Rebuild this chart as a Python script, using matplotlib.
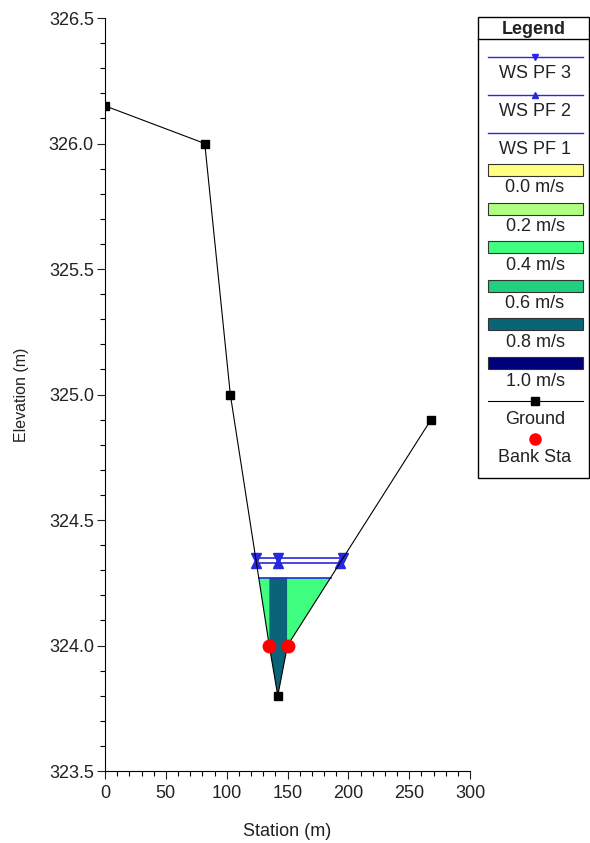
import numpy as np
import matplotlib
matplotlib.use('Agg')
import matplotlib.pyplot as plt
from matplotlib.patches import Rectangle, Polygon

plt.rcParams['font.family'] = ['Liberation Sans', 'DejaVu Sans']

# ground cross section
ground_sta = [0, 82, 103, 135, 142, 150, 268]
ground_elev = [326.15, 326.0, 325.0, 324.0, 323.8, 324.0, 324.9]
marker_sta = [0, 82, 103, 142, 268]
bank_sta = [135, 150]

# water surfaces
ws_names = ['WS PF 3', 'WS PF 2', 'WS PF 1']
ws_elev = [324.35, 324.33, 324.27]
ws_markers = ['v', '^', None]

# velocity distribution for PF 1 (left overbank, channel, right overbank)
sub_vel = [0.45, 0.85, 0.45]
vel_labels = ['0.0 m/s', '0.2 m/s', '0.4 m/s', '0.6 m/s', '0.8 m/s', '1.0 m/s']
vel_bins = [0.0, 0.2, 0.4, 0.6, 0.8, 1.0]
vel_colors = ['#ffff80', '#b0ff80', '#40ff80', '#20d080', '#0a6478', '#00007a']

ws_color = '#2828e0'
txt_color = '#222222'
fs = 13


def crossings(wse):
    """left and right station where ws meets ground"""
    g = np.array(ground_elev)
    s = np.array(ground_sta)
    imin = int(np.argmin(g))
    left = np.interp(wse, g[:imin + 1][::-1], s[:imin + 1][::-1])
    right = np.interp(wse, g[imin:], s[imin:])
    return left, right


def vel_color(v):
    idx = np.searchsorted(vel_bins, v, side='right') - 1
    return vel_colors[max(0, min(idx, len(vel_colors) - 1))]


fig = plt.figure(figsize=(5.9, 8.43), dpi=100)
ax = fig.add_axes([105 / 590, 1 - 771 / 843, 365 / 590, 753 / 843])

# velocity fill under PF 1
left, right = crossings(ws_elev[2])
edges = [left, bank_sta[0], bank_sta[1], right]
for i in range(3):
    a, b = edges[i], edges[i + 1]
    inner = [(s, e) for s, e in zip(ground_sta, ground_elev) if a < s < b]
    pts = [(a, np.interp(a, ground_sta, ground_elev))] + inner + \
          [(b, np.interp(b, ground_sta, ground_elev)), (b, ws_elev[2]), (a, ws_elev[2])]
    ax.add_patch(Polygon(pts, closed=True, facecolor=vel_color(sub_vel[i]),
                         edgecolor='none', zorder=1))

# water surfaces
for name, wse, mk in zip(ws_names, ws_elev, ws_markers):
    l, r = crossings(wse)
    ax.plot([l, r], [wse, wse], color=ws_color, lw=1.2, zorder=3)
    if mk:
        ax.plot([l, ground_sta[int(np.argmin(ground_elev))], r], [wse] * 3,
                ls='none', marker=mk, ms=6.5, color=ws_color, zorder=4)

# ground
ax.plot(ground_sta, ground_elev, color='black', lw=0.8, zorder=5)
ax.plot(marker_sta, np.interp(marker_sta, ground_sta, ground_elev), ls='none',
        marker='s', ms=5.5, color='black', zorder=6)
ax.plot(bank_sta, np.interp(bank_sta, ground_sta, ground_elev), ls='none',
        marker='o', ms=9, color='#ff0000', zorder=7)

ax.set_xlim(0, 300)
ax.set_ylim(323.5, 326.5)
ax.set_xticks(np.arange(0, 301, 50))
ax.set_xticks(np.arange(0, 301, 10), minor=True)
ax.set_yticks(np.arange(323.5, 326.51, 0.5))
ax.set_yticks(np.arange(323.5, 326.51, 0.1), minor=True)
ax.set_yticklabels([f'{v:.1f}' for v in np.arange(323.5, 326.51, 0.5)])
for s in ['top', 'right']:
    ax.spines[s].set_visible(False)
ax.spines['left'].set_linewidth(0.8)
ax.spines['bottom'].set_linewidth(0.8)
ax.tick_params(which='major', length=6, width=0.8, labelsize=fs, colors=txt_color, pad=2)
ax.tick_params(axis='x', which='major', pad=4)
ax.tick_params(which='minor', length=3.5, width=0.8)
ax.set_xlabel('Station (m)', fontsize=fs, labelpad=15, color=txt_color)
ax.set_ylabel('Elevation (m)', fontsize=11.5, labelpad=14, color=txt_color)

# legend box, drawn in pixel coords
lg = fig.add_axes([0, 0, 1, 1], facecolor='none')
lg.set_xlim(0, 590)
lg.set_ylim(843, 0)
lg.axis('off')
lg.add_patch(Rectangle((478, 17), 111, 461, facecolor='white', edgecolor='black', lw=1))
lg.plot([478, 589], [39, 39], color='black', lw=1)
lg.text(534, 29, 'Legend', ha='center', va='center', fontsize=fs, fontweight='bold',
        color=txt_color)
x0, x1, xc = 488, 583, 535
# ws entries
ws_rows = [(57, 74), (95, 112), (133, 150)]
for (ly, ty), name, mk in zip(ws_rows, ws_names, ws_markers):
    lg.plot([x0, x1], [ly, ly], color=ws_color, lw=1)
    if mk:
        lg.plot([xc], [ly], marker=mk, ms=5, color=ws_color)
    lg.text(xc, ty, name, ha='center', va='center', fontsize=fs, color=txt_color)
# velocity entries
for i, (lab, col) in enumerate(zip(vel_labels, vel_colors)):
    cy = 170 + i * 38.6
    lg.add_patch(Rectangle((x0, cy - 6), x1 - x0, 12, facecolor=col, edgecolor='#333333', lw=0.8))
    lg.text(xc, cy + 18, lab, ha='center', va='center', fontsize=fs, color=txt_color)
lg.plot([x0, x1], [401, 401], color='black', lw=0.8)
lg.plot([xc], [401], marker='s', ms=5.5, color='black')
lg.text(xc, 419, 'Ground', ha='center', va='center', fontsize=fs, color=txt_color)
lg.plot([xc], [439], marker='o', ms=8, color='#ff0000')
lg.text(xc, 457, 'Bank Sta', ha='center', va='center', fontsize=fs, color=txt_color)

fig.savefig('out.png', dpi=100)
